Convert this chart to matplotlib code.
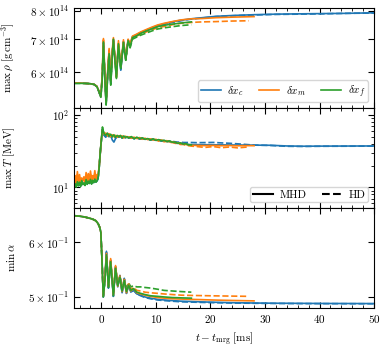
import matplotlib
matplotlib.use("Agg")
import matplotlib.pyplot as plt
from matplotlib.lines import Line2D
from matplotlib.ticker import MultipleLocator, NullFormatter, NullLocator

plt.rcParams['font.family'] = 'serif'
plt.rcParams['font.serif'] = ['cmr10']
plt.rcParams['mathtext.fontset'] = 'cm'
plt.rcParams['axes.formatter.use_mathtext'] = True
plt.rcParams['font.size'] = 8

# ---- max rho [1e14 g/cm^3] ----
t_rho = [-5, -4, -3, -2, -1.3, -0.8, -0.45, -0.1, 0.15, 0.38, 0.62, 0.87, 1.15, 1.42,
         1.72, 2.0, 2.21, 2.5, 2.76, 3.13, 3.56, 4.05, 4.47, 4.9, 5.27, 5.7, 6.4, 7.2,
         8.2, 9.2, 10.3, 11.5, 13.0, 14.6, 16.5]
rho_c_mhd = [5.70, 5.70, 5.69, 5.68, 5.66, 5.60, 5.47, 5.34, 5.85, 6.88, 5.95, 5.18, 5.95, 6.60,
             5.70, 6.55, 6.98, 6.35, 5.95, 6.80, 6.05, 6.92, 6.40, 6.98, 6.80, 7.08, 7.14, 7.22,
             7.30, 7.38, 7.46, 7.52, 7.59, 7.65, 7.70]
rho_m_mhd = [5.70, 5.70, 5.69, 5.68, 5.66, 5.61, 5.48, 5.35, 5.90, 7.02, 6.00, 5.20, 6.00, 6.70,
             5.75, 6.65, 7.05, 6.40, 5.85, 6.95, 6.15, 6.98, 6.38, 7.00, 6.85, 7.10, 7.16, 7.24,
             7.32, 7.40, 7.48, 7.54, 7.60, 7.66, 7.70]
rho_f_mhd = [5.69, 5.69, 5.69, 5.68, 5.66, 5.60, 5.48, 5.33, 5.80, 6.91, 5.90, 5.14, 5.90, 6.54,
             5.64, 6.50, 7.00, 6.30, 5.82, 6.85, 6.10, 6.90, 6.34, 6.95, 6.75, 7.05, 7.10, 7.19,
             7.27, 7.34, 7.42, 7.47, 7.51, 7.55, 7.59]
rho_c_hd = [5.70, 5.70, 5.69, 5.68, 5.66, 5.60, 5.47, 5.34, 5.85, 6.85, 5.95, 5.18, 5.92, 6.55,
            5.70, 6.50, 6.95, 6.35, 5.95, 6.78, 6.08, 6.90, 6.40, 6.95, 6.80, 7.06, 7.12, 7.20,
            7.28, 7.36, 7.44, 7.50, 7.57, 7.63, 7.69]
rho_m_hd = [5.70, 5.70, 5.69, 5.68, 5.66, 5.61, 5.48, 5.35, 5.88, 6.98, 6.00, 5.20, 5.98, 6.65,
            5.75, 6.60, 7.00, 6.38, 5.88, 6.90, 6.12, 6.95, 6.36, 6.96, 6.80, 7.04, 7.10, 7.16,
            7.24, 7.31, 7.38, 7.43, 7.49, 7.54, 7.57]
rho_f_hd = [5.69, 5.69, 5.69, 5.68, 5.66, 5.60, 5.48, 5.33, 5.80, 6.88, 5.90, 5.15, 5.88, 6.50,
            5.66, 6.48, 6.95, 6.30, 5.85, 6.80, 6.10, 6.86, 6.34, 6.90, 6.72, 7.00, 7.06, 7.13,
            7.20, 7.27, 7.34, 7.38, 7.42, 7.46, 7.49]
t_rho_c_late = [18.5, 21, 24, 28, 32, 36, 40, 45, 50]
rho_c_mhd_late = [7.74, 7.79, 7.82, 7.85, 7.87, 7.88, 7.89, 7.90, 7.92]
rho_c_hd_late = [7.73, 7.78, 7.81, 7.84, 7.86, 7.87, 7.88, 7.90, 7.91]
t_rho_m_late = [18.5, 21, 24, 28]
rho_m_mhd_late = [7.71, 7.74, 7.76, 7.78]
t_rho_m_hd_late = [18.5, 21, 24, 27]
rho_m_hd_late = [7.59, 7.60, 7.62, 7.63]

# ---- max T [MeV] ----
t_T = [-5.0, -4.8, -4.6, -4.4, -4.2, -4.0, -3.8, -3.6, -3.4, -3.2, -3.0, -2.8, -2.6, -2.4,
       -2.2, -2.0, -1.8, -1.6, -1.4, -1.2, -1.0, -0.8, -0.6, -0.4, -0.2, 0.0, 0.2, 0.35,
       0.5, 0.8, 1.1, 1.4, 1.7, 2.0, 2.3, 2.6, 2.9, 3.2, 3.5, 3.8, 4.1, 4.4, 4.7, 5.0,
       5.5, 6.0, 6.5, 7.0, 7.5, 8.0, 8.5, 9.0, 9.5, 10.0, 10.5, 11.0, 11.5, 12.0, 12.5,
       13.0, 13.5, 14.0, 14.5, 15.0, 15.5, 16.0, 16.5]
T_c_mhd = [10.0, 11.0, 10.4, 11.8, 10.6, 11.5, 10.5, 12.0, 11.0, 11.4, 10.8, 12.2, 11.2, 11.9,
           11.4, 12.4, 11.3, 12.1, 11.7, 12.6, 11.9, 12.2, 13.5, 19.0, 30.0, 45.0, 64.0, 58.0,
           52.0, 49.0, 53.0, 50.0, 52.0, 45.0, 42.0, 47.0, 50.0, 49.0, 51.0, 48.0, 50.0, 48.5,
           49.5, 48.0, 49.0, 47.0, 48.5, 46.5, 47.5, 46.0, 46.5, 45.0, 46.0, 44.5, 45.0, 43.5,
           44.0, 43.0, 43.0, 42.0, 41.5, 40.5, 40.5, 39.5, 39.5, 39.0, 38.8]
T_m_mhd = [11.0, 14.5, 11.2, 16.5, 12.0, 15.0, 11.5, 13.0, 12.5, 14.0, 11.8, 16.0, 12.5, 15.5,
           12.0, 16.8, 12.8, 14.5, 13.0, 17.0, 13.0, 15.0, 14.5, 19.5, 30.0, 46.0, 62.0, 58.0,
           54.0, 56.0, 51.0, 55.0, 50.0, 53.0, 50.0, 52.0, 49.0, 51.5, 49.5, 51.0, 48.5, 50.5,
           49.0, 49.5, 48.0, 49.0, 47.5, 48.5, 46.5, 47.5, 46.0, 46.5, 45.0, 46.0, 44.0, 45.0,
           43.5, 44.0, 42.5, 42.5, 41.5, 41.0, 40.0, 40.0, 39.0, 38.5, 38.0]
T_f_mhd = [9.6, 11.2, 10.1, 12.0, 10.5, 11.8, 10.3, 12.4, 10.9, 11.5, 10.6, 12.8, 11.0, 12.2,
           11.3, 12.9, 11.1, 12.5, 11.6, 13.0, 11.8, 12.3, 13.5, 19.0, 31.0, 45.0, 68.0, 60.0,
           55.0, 52.0, 56.0, 51.0, 54.0, 50.0, 53.0, 49.0, 52.0, 50.0, 52.0, 48.0, 51.0, 49.0,
           50.0, 48.0, 50.0, 47.0, 49.0, 47.0, 48.0, 46.0, 47.0, 45.0, 46.5, 44.5, 45.5, 44.0,
           44.5, 43.0, 43.5, 42.0, 42.0, 40.5, 41.0, 39.5, 40.0, 38.5, 38.5]
T_c_hd = [10.2, 10.8, 10.6, 11.5, 10.8, 11.2, 10.8, 11.6, 11.2, 11.0, 11.0, 11.8, 11.4, 11.6,
          11.6, 12.0, 11.5, 11.9, 11.8, 12.3, 12.0, 12.1, 13.5, 19.0, 30.0, 45.0, 63.0, 57.0,
          53.0, 50.0, 53.0, 51.0, 52.0, 49.0, 50.0, 48.0, 50.0, 49.0, 50.5, 48.5, 50.0, 48.5,
          49.0, 48.0, 48.5, 47.0, 48.0, 46.5, 47.0, 46.0, 46.5, 45.5, 46.0, 45.0, 45.0, 44.0,
          44.0, 43.5, 43.0, 43.0, 42.5, 42.0, 42.0, 41.5, 41.5, 41.5, 41.5]
T_m_hd = [11.0, 13.5, 11.0, 15.0, 12.0, 14.0, 11.5, 13.5, 12.2, 13.0, 11.8, 14.5, 12.2, 14.0,
          12.0, 15.0, 12.5, 14.0, 12.8, 15.5, 13.0, 14.0, 14.5, 19.5, 30.0, 45.0, 60.0, 57.0,
          53.0, 55.0, 51.0, 54.0, 50.0, 52.0, 49.5, 51.5, 49.0, 51.0, 49.0, 50.5, 48.0, 50.0,
          48.5, 49.0, 47.5, 48.5, 47.0, 47.5, 46.0, 47.0, 45.5, 46.0, 44.5, 45.0, 43.5, 44.0,
          42.5, 43.0, 41.5, 41.5, 40.5, 40.0, 39.0, 39.0, 38.0, 37.5, 37.0]
T_f_hd = [9.8, 11.0, 10.3, 11.6, 10.7, 11.5, 10.5, 12.0, 11.0, 11.3, 10.8, 12.4, 11.1, 12.0,
          11.4, 12.6, 11.2, 12.2, 11.7, 12.7, 11.9, 12.2, 13.5, 19.0, 31.0, 45.0, 66.0, 59.0,
          54.0, 51.0, 55.0, 50.0, 53.0, 49.5, 52.0, 49.0, 51.0, 49.5, 51.0, 48.0, 50.0, 48.5,
          49.5, 48.0, 49.0, 47.0, 48.5, 46.5, 47.5, 46.0, 46.5, 45.0, 46.0, 44.5, 45.0, 43.5,
          44.0, 43.0, 43.0, 42.0, 41.5, 40.5, 40.5, 39.5, 39.5, 38.5, 38.5]
t_T_c_late = [17.5, 19, 20.5, 22, 23.5, 25, 26.5, 28, 31, 34, 37, 40, 45, 50]
T_c_mhd_late = [38.8, 38.7, 38.6, 38.5, 38.4, 38.3, 38.3, 38.2, 38.0, 37.2, 36.9, 37.0, 37.1, 37.2]
T_c_hd_late = [41.3, 41.4, 41.6, 41.0, 40.5, 39.8, 39.0, 38.2, 37.8, 36.8, 36.6, 36.8, 36.9, 37.0]
t_T_m_late = [17.5, 19, 20.5, 22, 23.5, 25, 26.5, 28]
T_m_mhd_late = [37.8, 37.6, 37.8, 37.5, 37.7, 37.4, 37.6, 37.5]
t_T_m_hd_late = [17.5, 19, 20.5, 22, 23.5, 25, 26.5, 27]
T_m_hd_late = [36.5, 35.5, 36.5, 35.2, 36.0, 35.0, 35.8, 35.3]

# ---- min alpha ----
t_al = [-5, -4, -3, -2, -1.5, -1.0, -0.6, -0.3, -0.1, 0.1, 0.35, 0.65, 0.93, 1.3, 1.7, 2.2,
        2.6, 3.0, 3.4, 3.8, 4.2, 4.6, 5.0, 5.4, 5.9, 6.5, 7.2, 8.0, 9.0, 10.3, 11.5, 13.0,
        14.6, 16.5]
al_c_mhd = [0.655, 0.654, 0.652, 0.649, 0.647, 0.644, 0.638, 0.630, 0.620, 0.570, 0.500, 0.530,
            0.582, 0.515, 0.565, 0.501, 0.553, 0.517, 0.537, 0.507, 0.532, 0.506, 0.521, 0.508,
            0.512, 0.505, 0.503, 0.500, 0.498, 0.496, 0.495, 0.494, 0.493, 0.4925]
al_m_mhd = [0.655, 0.654, 0.652, 0.649, 0.647, 0.644, 0.638, 0.630, 0.620, 0.570, 0.501, 0.532,
            0.578, 0.517, 0.568, 0.503, 0.555, 0.518, 0.536, 0.509, 0.530, 0.507, 0.522, 0.510,
            0.514, 0.507, 0.505, 0.503, 0.501, 0.499, 0.498, 0.497, 0.4965, 0.496]
al_f_mhd = [0.655, 0.654, 0.652, 0.649, 0.647, 0.644, 0.638, 0.630, 0.620, 0.568, 0.500, 0.528,
            0.575, 0.516, 0.562, 0.502, 0.550, 0.519, 0.534, 0.510, 0.528, 0.509, 0.520, 0.511,
            0.514, 0.508, 0.506, 0.504, 0.502, 0.501, 0.500, 0.499, 0.4985, 0.498]
al_c_hd = [0.655, 0.654, 0.652, 0.649, 0.647, 0.644, 0.638, 0.630, 0.620, 0.570, 0.500, 0.530,
           0.580, 0.515, 0.563, 0.501, 0.551, 0.517, 0.535, 0.507, 0.530, 0.506, 0.520, 0.508,
           0.511, 0.505, 0.502, 0.499, 0.497, 0.495, 0.494, 0.493, 0.492, 0.4915]
al_m_hd = [0.655, 0.654, 0.652, 0.649, 0.647, 0.644, 0.638, 0.630, 0.620, 0.570, 0.502, 0.532,
           0.576, 0.518, 0.565, 0.505, 0.553, 0.520, 0.537, 0.512, 0.531, 0.511, 0.523, 0.513,
           0.516, 0.511, 0.510, 0.508, 0.507, 0.506, 0.505, 0.504, 0.503, 0.5025]
al_f_hd = [0.655, 0.654, 0.652, 0.649, 0.647, 0.644, 0.638, 0.630, 0.620, 0.568, 0.501, 0.529,
           0.574, 0.518, 0.562, 0.505, 0.552, 0.521, 0.536, 0.515, 0.530, 0.515, 0.524, 0.517,
           0.519, 0.517, 0.517, 0.516, 0.515, 0.513, 0.511, 0.510, 0.509, 0.508]
t_al_c_late = [18.5, 21, 24, 28, 32, 36, 40, 45, 50]
al_c_mhd_late = [0.4918, 0.4912, 0.4906, 0.4900, 0.4897, 0.4895, 0.4893, 0.4892, 0.4891]
al_c_hd_late = [0.4910, 0.4905, 0.4900, 0.4896, 0.4893, 0.4891, 0.4890, 0.4889, 0.4888]
t_al_m_late = [18.5, 21, 24, 28]
al_m_mhd_late = [0.4955, 0.4948, 0.4942, 0.4935]
t_al_m_hd_late = [18.5, 21, 24, 27]
al_m_hd_late = [0.5022, 0.5018, 0.5014, 0.5010]

c_col, m_col, f_col = 'tab:blue', 'tab:orange', 'tab:green'
lw = 1.2

fig, axes = plt.subplots(3, 1, figsize=(3.88, 3.48), dpi=100, sharex=True)
fig.subplots_adjust(left=0.191, right=0.964, top=0.977, bottom=0.115, hspace=0)
ax1, ax2, ax3 = axes

# density
ax1.plot(t_rho + t_rho_c_late, [v * 1e14 for v in rho_c_hd + rho_c_hd_late], c=c_col, lw=lw, ls='--')
ax1.plot(t_rho + t_rho_m_hd_late, [v * 1e14 for v in rho_m_hd + rho_m_hd_late], c=m_col, lw=lw, ls='--')
ax1.plot(t_rho, [v * 1e14 for v in rho_f_hd], c=f_col, lw=lw, ls='--')
ax1.plot(t_rho + t_rho_c_late, [v * 1e14 for v in rho_c_mhd + rho_c_mhd_late], c=c_col, lw=lw, label=r'$\delta x_c$')
ax1.plot(t_rho + t_rho_m_late, [v * 1e14 for v in rho_m_mhd + rho_m_mhd_late], c=m_col, lw=lw, label=r'$\delta x_m$')
ax1.plot(t_rho, [v * 1e14 for v in rho_f_mhd], c=f_col, lw=lw, label=r'$\delta x_f$')

# temperature
ax2.plot(t_T + t_T_c_late, T_c_hd + T_c_hd_late, c=c_col, lw=lw, ls='--')
ax2.plot(t_T + t_T_m_hd_late, T_m_hd + T_m_hd_late, c=m_col, lw=lw, ls='--')
ax2.plot(t_T, T_f_hd, c=f_col, lw=lw, ls='--')
ax2.plot(t_T + t_T_c_late, T_c_mhd + T_c_mhd_late, c=c_col, lw=lw)
ax2.plot(t_T + t_T_m_late, T_m_mhd + T_m_mhd_late, c=m_col, lw=lw)
ax2.plot(t_T, T_f_mhd, c=f_col, lw=lw)

# lapse
ax3.plot(t_al + t_al_c_late, al_c_hd + al_c_hd_late, c=c_col, lw=lw, ls='--')
ax3.plot(t_al + t_al_m_hd_late, al_m_hd + al_m_hd_late, c=m_col, lw=lw, ls='--')
ax3.plot(t_al, al_f_hd, c=f_col, lw=lw, ls='--')
ax3.plot(t_al + t_al_c_late, al_c_mhd + al_c_mhd_late, c=c_col, lw=lw)
ax3.plot(t_al + t_al_m_late, al_m_mhd + al_m_mhd_late, c=m_col, lw=lw)
ax3.plot(t_al, al_f_mhd, c=f_col, lw=lw)

for ax in axes:
    ax.set_yscale('log')
    ax.tick_params(which='both', direction='in', top=True, right=True, labelsize=8)
    ax.tick_params(which='major', length=4.5, width=0.8)
    ax.tick_params(which='minor', length=2.5, width=0.6)

ax1.set_ylim(5.07e14, 8.1e14)
ax1.yaxis.set_minor_locator(NullLocator())
ax1.set_yticks([6e14, 7e14, 8e14], [r'$6\times10^{14}$', r'$7\times10^{14}$', r'$8\times10^{14}$'])
ax2.set_ylim(5.2, 124)
ax2.yaxis.set_minor_formatter(NullFormatter())
ax3.set_ylim(0.482, 0.672)
ax3.yaxis.set_minor_locator(NullLocator())
ax3.set_yticks([0.5, 0.6], [r'$5\times10^{-1}$', r'$6\times10^{-1}$'])

ax3.set_xlim(-5, 50)
ax3.xaxis.set_major_locator(MultipleLocator(10))
ax3.xaxis.set_minor_locator(MultipleLocator(2))

ax1.set_ylabel(r'$\max\,\rho\ [\mathrm{g\,cm^{-3}}]$', fontsize=8)
ax2.set_ylabel(r'$\max\,T\ [\mathrm{MeV}]$', fontsize=8)
ax3.set_ylabel(r'$\min\,\alpha$', fontsize=8)
ax3.set_xlabel(r'$t - t_{\rm mrg}\ [\mathrm{ms}]$', fontsize=8)
for ax in axes:
    ax.yaxis.set_label_coords(-0.19, 0.5)

leg_kw = dict(loc='lower right', fontsize=8, handlelength=1.8, columnspacing=1.4,
              borderpad=0.25, handletextpad=0.6, labelspacing=0.2)
ax1.legend(ncol=3, **leg_kw)
proxies = [Line2D([], [], c='k', lw=1.5), Line2D([], [], c='k', lw=1.5, ls='--')]
ax2.legend(proxies, ['MHD', 'HD'], ncol=2, **leg_kw)

fig.savefig('out.png', dpi=100)
